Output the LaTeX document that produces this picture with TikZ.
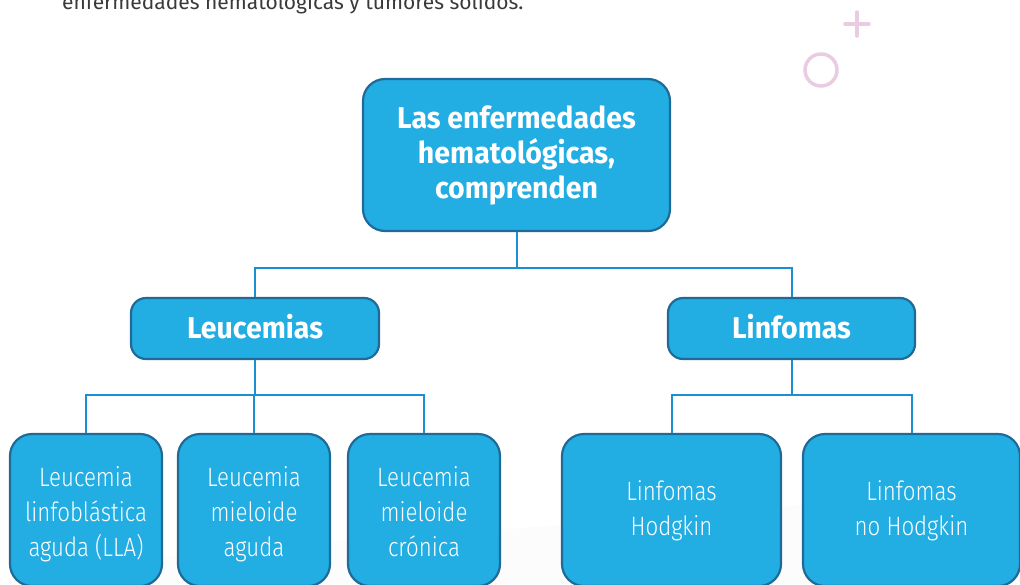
\documentclass[tikz,border=0pt]{standalone}
\usepackage{fontspec}
\setmainfont{Fira Sans}[FakeStretch=0.95]
\newfontfamily\lightfont{Fira Sans Light}[FakeStretch=0.84]
\newfontfamily\plainfont{Fira Sans}
\newcommand\leaftxt[2][-4pt]{\raisebox{#1}[\height][\depth]{\begin{tabular}{@{}c@{}}#2\end{tabular}}}
\newcommand\midtxt[1]{\raisebox{2pt}[\height][\depth]{#1}}
\begin{document}
\begin{tikzpicture}[x=1pt,y=-1pt,
  box/.style={draw=boxborder,line width=2.2pt,fill=boxfill,rounded corners=22pt,text=white,align=center,inner sep=0pt},
  conn/.style={draw=connblue,line width=2pt},
  deco/.style={draw=decopink,line width=3.5pt,line cap=round}]
\definecolor{boxfill}{HTML}{22ADE3}
\definecolor{boxborder}{HTML}{1F6A96}
\definecolor{connblue}{HTML}{1B8FD2}
\definecolor{decopink}{HTML}{E9CCE2}
\definecolor{toptext}{HTML}{3A3A3A}
\useasboundingbox (0,0) rectangle (1020,584);
\fill[white] (0,0) rectangle (1020,584);
\fill[black!2,opacity=0.6] (0,584) .. controls (300,520) and (700,540) .. (1020,470) -- (1020,584) -- cycle;
% cut-off text at top
\begin{scope}
\clip (0,0) rectangle (1020,584);
\node[anchor=base west,text=toptext,font=\plainfont\fontsize{21}{24}\selectfont,inner sep=0pt] (toptxt) at (62,9) {enfermedades hematológicas y tumores sólidos.};
\end{scope}
% decorations
\draw[deco] (857,12) -- (857,36) (845,24) -- (869,24);
\draw[deco] (821,70) circle (16);
% nodes
\node[box,minimum width=307pt,minimum height=152pt,font=\bfseries\fontsize{30}{35}\selectfont] (top) at (516.5,155)
  {Las enfermedades\\hematológicas,\\comprenden};
\node[box,minimum width=248pt,minimum height=61pt,rounded corners=15pt,font=\bfseries\fontsize{30}{35}\selectfont] (leu) at (255,328.5) {\midtxt{Leucemias}};
\node[box,minimum width=247pt,minimum height=61pt,rounded corners=15pt,font=\bfseries\fontsize{30}{35}\selectfont] (lin) at (791.5,328.5) {\midtxt{Linfomas}};
\tikzset{leaf/.style={box,minimum height=152pt,font=\lightfont\fontsize{26.5}{35}\selectfont}}
\node[leaf,minimum width=152pt] (l1) at (86,510) {\leaftxt{Leucemia\\linfoblástica\\aguda (LLA)}};
\node[leaf,minimum width=152pt] (l2) at (254,510) {\leaftxt{Leucemia\\mieloide\\aguda}};
\node[leaf,minimum width=152pt] (l3) at (424,510) {\leaftxt{Leucemia\\mieloide\\crónica}};
\node[leaf,minimum width=219pt] (l4) at (671.5,510) {\leaftxt[-1pt]{Linfomas\\Hodgkin}};
\node[leaf,minimum width=217pt] (l5) at (911.5,510) {\leaftxt[-1pt]{Linfomas\\no Hodgkin}};
% connectors
\coordinate (j1) at (516.5,268);
\draw[conn] (top.south) -- (j1);
\draw[conn] (j1) -| (leu.north);
\draw[conn] (j1) -| (lin.north);
\draw[conn] (leu.south) -- ++(0,35) coordinate (j2);
\draw[conn] (j2) -| (l1.north);
\draw[conn] (j2) -| (l2.north);
\draw[conn] (j2) -| (l3.north);
\draw[conn] (lin.south) -- ++(0,35) coordinate (j3);
\draw[conn] (j3) -| (l4.north);
\draw[conn] (j3) -| (l5.north);
\end{tikzpicture}
\end{document}
